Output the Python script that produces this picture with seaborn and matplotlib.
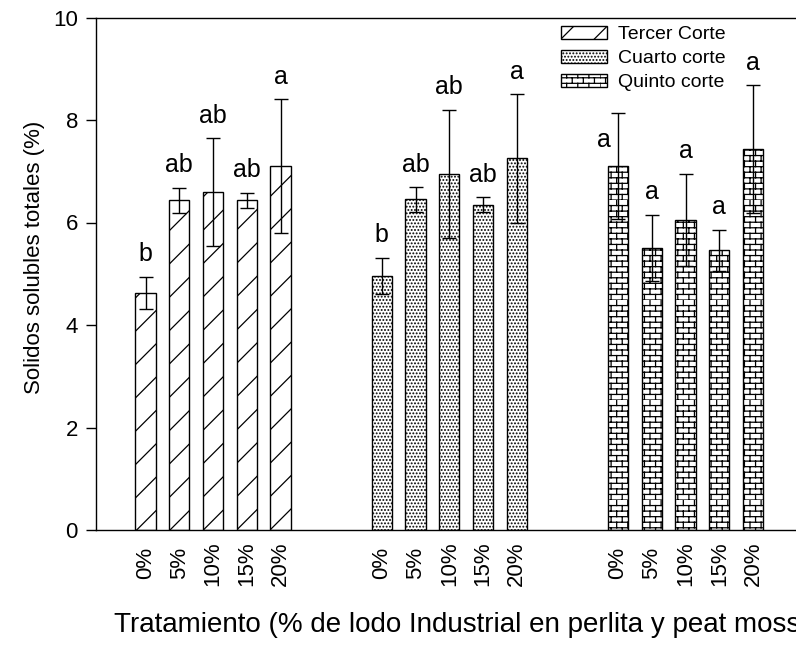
import warnings
import numpy as np
import pandas as pd
import seaborn as sns
import matplotlib
matplotlib.use("Agg")
import matplotlib.pyplot as plt
import matplotlib.hatch as mhatch
from matplotlib.path import Path

warnings.filterwarnings("ignore")

# datos
cortes = ["Tercer Corte", "Cuarto corte", "Quinto corte"]
tratamientos = ["0%", "5%", "10%", "15%", "20%"]
tercer = [4.63, 6.43, 6.60, 6.43, 7.10]
tercer_err = [0.31, 0.25, 1.05, 0.15, 1.31]
cuarto = [4.96, 6.45, 6.95, 6.35, 7.25]
cuarto_err = [0.35, 0.24, 1.25, 0.14, 1.25]
quinto = [7.10, 5.50, 6.05, 5.46, 7.43]
quinto_err = [1.04, 0.65, 0.90, 0.40, 1.25]
letras = [["b", "ab", "ab", "ab", "a"],
          ["b", "ab", "ab", "ab", "a"],
          ["a", "a", "a", "a", "a"]]


class BrickHatch(mhatch.HatchPatternBase):
    # patron de ladrillos, se activa con la letra 'b'
    def __init__(self, hatch, density):
        rows = hatch.count("b") * density * 3
        segs = []
        cols = rows // 2
        for r in range(rows):
            y0, y1 = r / rows, (r + 1) / rows
            segs.append(((0, y0), (1, y0)))
            shift = 0.5 / cols if r % 2 else 0.0
            for c in range(cols):
                x = c / cols + shift
                segs.append(((x, y0), (x, y1)))
        self.segs = np.array(segs, float).reshape(-1, 2)
        self.num_vertices = len(self.segs)

    def set_vertices_and_codes(self, vertices, codes):
        vertices[:] = self.segs
        codes[0::2] = Path.MOVETO
        codes[1::2] = Path.LINETO


mhatch._hatch_types.append(BrickHatch)

valores = [tercer, cuarto, quinto]
errores = [tercer_err, cuarto_err, quinto_err]
filas = []
for g, corte in enumerate(cortes):
    for i, trat in enumerate(tratamientos):
        filas.append({"pos": g * 7 + i, "corte": corte, "trat": trat,
                      "valor": valores[g][i], "err": errores[g][i],
                      "letra": letras[g][i]})
df = pd.DataFrame(filas)

sns.set_style("ticks")
plt.rcParams["font.family"] = ["Liberation Sans", "DejaVu Sans"]
plt.rcParams["hatch.linewidth"] = 0.9
for k in ["text.color", "axes.labelcolor", "xtick.color", "ytick.color",
          "xtick.labelcolor", "ytick.labelcolor"]:
    plt.rcParams[k] = "black"

fig = plt.figure(figsize=(7.96, 6.48), dpi=100)
ax = fig.add_axes([96 / 796, 118 / 648, 732 / 796, 512.5 / 648])

sns.barplot(data=df, x="pos", y="valor", hue="corte", hue_order=cortes,
            native_scale=True, dodge=False, errorbar=None, width=0.6,
            palette=["white"] * 3, saturation=1, edgecolor="black",
            linewidth=1, legend=False, ax=ax)

tramas = {"Tercer Corte": "/", "Cuarto corte": ".....", "Quinto corte": "b"}
corte_de_pos = dict(zip(df["pos"], df["corte"]))
handles = {}
for p in ax.patches:
    cx = p.get_x() + p.get_width() / 2
    c = corte_de_pos[int(round(cx))]
    p.set_hatch(tramas[c])
    handles.setdefault(c, p)

ax.errorbar(df["pos"], df["valor"], yerr=df["err"], fmt="none",
            ecolor="black", elinewidth=1, capsize=4.7, capthick=1, zorder=5)

for _, r in df.iterrows():
    if r["corte"] == "Quinto corte" and r["trat"] == "0%":
        # letra al lado de la barra de error
        ax.text(r["pos"] - 0.42, r["valor"] + 0.37, r["letra"], ha="center",
                va="baseline", fontsize=18)
    else:
        ax.text(r["pos"], r["valor"] + r["err"] + 0.3, r["letra"],
                ha="center", va="baseline", fontsize=18)

ax.set_xlim(-1.467, 20.22)
ax.set_ylim(0, 10)
ax.set_yticks(np.arange(0, 11, 2))
ax.set_xticks(df["pos"], df["trat"], rotation=90, va="center")
ax.tick_params(axis="x", length=0, pad=24, labelsize=16)
ax.tick_params(axis="y", length=7, width=1, pad=6, labelsize=16)
for s in ["left", "bottom", "top"]:
    ax.spines[s].set_linewidth(1)
    ax.spines[s].set_color("black")
ax.spines["right"].set_visible(False)

ax.set_xlabel("Tratamiento (% de lodo Industrial en perlita y peat moss)",
              fontsize=20, labelpad=19)
ax.set_ylabel("Solidos solubles totales (%)", fontsize=16)
ax.yaxis.set_label_coords(-0.070, 0.531)

ax.legend(handles=[handles[c] for c in cortes], labels=cortes,
          loc="upper left", bbox_to_anchor=(561 / 796, 1 - 26 / 648),
          bbox_transform=fig.transFigure, frameon=False, fontsize=14,
          borderpad=0, borderaxespad=0, handlelength=2.37,
          handleheight=0.62, handletextpad=0.57, labelspacing=0.36)

fig.savefig("out.png", dpi=100)
